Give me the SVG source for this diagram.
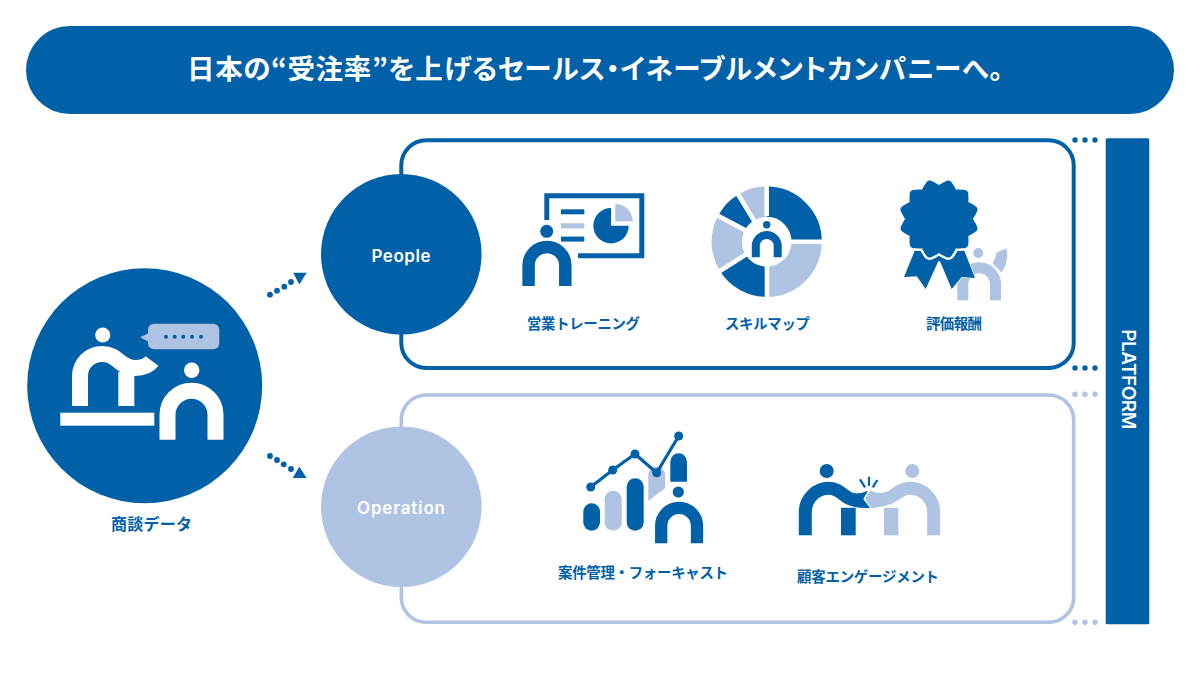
<svg xmlns="http://www.w3.org/2000/svg" xmlns:xlink="http://www.w3.org/1999/xlink" width="1200" height="675" viewBox="0 0 1200 675">
<style>
.d{fill:#0060a8}.l{fill:#afc3e3}.w{fill:#fff}
.sd{fill:none;stroke:#0060a8}.sl{fill:none;stroke:#afc3e3}.sw{fill:none;stroke:#fff}
.jp{font-family:"Noto Sans CJK JP","Noto Sans",sans-serif;font-weight:700}
.lab{font-size:14.4px;fill:#0060a8;text-anchor:start}
.en{font-family:Inter,"Noto Sans",sans-serif;font-weight:600;fill:#fff}
</style>
<defs>
<path id="petal" d="M-8.8 -32.8Q-4.5 -37.5 -1.8 -39.3Q0 -40.2 1.8 -39.3Q4.5 -37.5 8.8 -32.8L0 -20Z"/>
<g id="rosette">
<circle r="33.4"/>
<use xlink:href="#petal" transform="rotate(15)"/><use xlink:href="#petal" transform="rotate(45)"/><use xlink:href="#petal" transform="rotate(75)"/><use xlink:href="#petal" transform="rotate(105)"/><use xlink:href="#petal" transform="rotate(135)"/><use xlink:href="#petal" transform="rotate(165)"/><use xlink:href="#petal" transform="rotate(195)"/><use xlink:href="#petal" transform="rotate(225)"/><use xlink:href="#petal" transform="rotate(255)"/><use xlink:href="#petal" transform="rotate(285)"/><use xlink:href="#petal" transform="rotate(315)"/><use xlink:href="#petal" transform="rotate(345)"/>
</g>
</defs>
<rect width="1200" height="675" fill="#fff"/>

<g id="header">
<rect x="26" y="26" width="1148" height="88" rx="44" class="d"/>
<text x="187" y="79" class="jp" font-size="27.5" fill="#fff" style="font-feature-settings:'palt'" textLength="816" lengthAdjust="spacing">日本の“受注率”を上げるセールス・イネーブルメントカンパニーへ。</text>
</g>

<g id="connectors">
<g class="d">
<circle cx="270" cy="294.7" r="2.9"/><circle cx="277" cy="290.7" r="2.9"/><circle cx="284.3" cy="286.7" r="2.9"/><circle cx="291" cy="282" r="2.9"/>
<path d="M293.3 272.7H306.7L299.3 284.5Z"/>
<circle cx="270" cy="456" r="2.9"/><circle cx="277" cy="460" r="2.9"/><circle cx="283.7" cy="464.3" r="2.9"/><circle cx="291" cy="469" r="2.9"/>
<path d="M299.3 466.7L306.7 478H292.7Z"/>
<circle cx="1075" cy="140" r="2.7"/><circle cx="1085" cy="140" r="2.7"/><circle cx="1095" cy="140" r="2.7"/>
<circle cx="1075" cy="368" r="2.7"/><circle cx="1085" cy="368" r="2.7"/><circle cx="1095" cy="368" r="2.7"/>
</g>
<g class="l">
<circle cx="1075" cy="394.3" r="2.7"/><circle cx="1085" cy="394.3" r="2.7"/><circle cx="1095" cy="394.3" r="2.7"/>
<circle cx="1075" cy="622.3" r="2.7"/><circle cx="1085" cy="622.3" r="2.7"/><circle cx="1095" cy="622.3" r="2.7"/>
</g>
</g>

<g id="box-people"><rect x="401.3" y="140.3" width="672.4" height="227.7" rx="25" class="sd" stroke-width="4"/></g>
<g id="box-operation"><rect x="401.3" y="395" width="672.4" height="227.3" rx="25" class="sl" stroke-width="3.6"/></g>

<g id="platform">
<rect x="1105.7" y="138.3" width="43.6" height="486" rx="1.5" class="d"/>
<text transform="translate(1121.6 329.3) rotate(90)" class="en" font-size="19" textLength="100" lengthAdjust="spacing">PLATFORM</text>
</g>

<g id="people">
<circle cx="401.3" cy="254.2" r="80.3" class="d"/>
<text x="371.5" y="261.7" class="en" font-size="17" textLength="59" lengthAdjust="spacing">People</text>
</g>
<g id="operation">
<circle cx="401.3" cy="506.7" r="80.3" class="l"/>
<text x="357" y="514" class="en" font-size="17" textLength="88" lengthAdjust="spacing">Operation</text>
</g>

<g id="sales-talk">
<circle cx="144.7" cy="385.7" r="117.5" class="d"/>
<circle cx="102.7" cy="335" r="7.6" class="w"/>
<path d="M80 406V376A22 22 0 0 1 102 354C118 354 120 368 135 368C143 368 149 365 152 361" class="sw" stroke-width="16"/>
<rect x="118.3" y="372" width="16" height="34" class="w"/>
<rect x="60.3" y="412.7" width="94" height="13" class="w"/>
<circle cx="191.7" cy="370.3" r="7.7" class="w"/>
<path d="M167.5 439.7V414.7A24 24 0 0 1 215.5 414.7V439.7" class="sw" stroke-width="16"/>
<rect x="148" y="323.7" width="71.3" height="25.6" rx="6" class="l"/>
<path d="M140 337.3L149 333V342Z" class="l"/>
<g class="d"><circle cx="166" cy="336.7" r="2"/><circle cx="174.7" cy="336.7" r="2"/><circle cx="183.3" cy="336.7" r="2"/><circle cx="192" cy="336.7" r="2"/><circle cx="201" cy="336.7" r="2"/></g>
<text x="111" y="529.5" class="jp" font-size="16" fill="#0060a8" textLength="81" lengthAdjust="spacing">商談データ</text>
</g>

<g id="sales-training">
<path d="M546.8 220V195.8H641.8V255.8H578" class="sd" stroke-width="5"/>
<rect x="561" y="209.3" width="23.3" height="5" class="d"/>
<rect x="561" y="223.3" width="23.3" height="5" class="l"/>
<rect x="561" y="236.6" width="23.3" height="5" class="d"/>
<path d="M611 225.7H628.7A17.7 17.7 0 1 1 611 208Z" class="d"/>
<path d="M615.3 221.3V204A17.4 17.4 0 0 1 632.7 221.3Z" class="l"/>
<circle cx="546.7" cy="231.3" r="6.5" class="d"/>
<path d="M528.6 286V265.3A18.35 18.35 0 0 1 565.3 265.3V286" class="sd" stroke-width="12.5"/>
<text x="527" y="329" class="jp lab" textLength="113" lengthAdjust="spacing">営業トレーニング</text>
</g>

<g id="skill-map">
<g stroke-width="30.3" fill="none">
<path d="M766.7 201.7A40 40 0 0 1 806.7 241.7" class="sd"/>
<path d="M806.7 241.7A40 40 0 0 1 766.7 281.7" class="sl"/>
<path d="M766.7 281.7A40 40 0 0 1 732.8 262.9" class="sd"/>
<path d="M732.8 262.9A40 40 0 0 1 731.4 222.9" class="sl"/>
<path d="M731.4 222.9A40 40 0 0 1 746.1 207.4" class="sd"/>
<path d="M746.1 207.4A40 40 0 0 1 766.7 201.7" class="sl"/>
</g>
<path d="M766.7 216V180M767 241.7H830M767 265V305M746.3 254.4L712 276M745.5 230.4L710 211.5M754.3 221.1L733 186" class="sw" stroke-width="4.6"/>
<circle cx="766.7" cy="224.7" r="3.7" class="d"/>
<path d="M755.8 257.3V245A11 11 0 0 1 777.7 245V257.3" class="sd" stroke-width="8"/>
<text x="725" y="329" class="jp lab" textLength="85" lengthAdjust="spacing">スキルマップ</text>
</g>

<g id="reward">
<circle cx="978.3" cy="253" r="5" class="l"/>
<path d="M962.8 300.3V284.2A16.35 16.35 0 0 1 995.5 284.2V300.3" class="sl" stroke-width="11"/>
<path d="M996 253Q1001 250 1006.5 248.5Q1009 262 1001.5 272.5L992.5 263Q996 258 996 253Z" class="l"/>
<path d="M915 250L904 277L916.7 276.3L925.7 289L938.3 261.3L940 261.3L951.7 289L961.7 277L975 278L964 250Z" class="d" stroke="#fff" stroke-width="1.5" paint-order="stroke"/>
<use xlink:href="#rosette" transform="translate(939 219)" fill="#fff" stroke="#fff" stroke-width="5" stroke-linejoin="round"/>
<use xlink:href="#rosette" transform="translate(939 219)" class="d"/>
<text x="926" y="329" class="jp lab" textLength="56" lengthAdjust="spacing">評価報酬</text>
</g>

<g id="forecast">
<rect x="583.3" y="503.3" width="16.7" height="27.4" rx="8.35" class="d"/>
<rect x="604.7" y="490.7" width="17" height="40" rx="8.5" class="l"/>
<rect x="626.7" y="478.3" width="17" height="52.4" rx="8.5" class="d"/>
<path d="M648.3 501V475A8.35 8.35 0 0 1 665 475V488.3Z" class="l"/>
<path d="M670.3 481.7V461.7A8.35 8.35 0 0 1 687 461.7V481.7Z" class="d"/>
<path d="M590.7 487L612.7 470L635 454L656.7 472.7L678.7 436" class="sd" stroke-width="3.2"/>
<g class="d"><circle cx="590.7" cy="487" r="4.5"/><circle cx="612.7" cy="470" r="4.5"/><circle cx="635" cy="454" r="4.5"/><circle cx="656.7" cy="472.7" r="4.5"/><circle cx="678.7" cy="436" r="4.5"/></g>
<circle cx="678.3" cy="492" r="5.6" class="d"/>
<path d="M661.2 543.3V525.8A17.9 17.9 0 0 1 697 525.8V543.3" class="sd" stroke-width="12.3"/>
<text x="558" y="578" class="jp lab" textLength="170" lengthAdjust="spacing">案件管理・フォーキャスト</text>
</g>

<g id="engagement">
<circle cx="826.7" cy="471" r="7" class="d"/>
<circle cx="912.3" cy="471" r="7" class="l"/>
<path d="M805.3 535.3V512A23.7 23.7 0 0 1 829 488.3C842 488.3 844 500 856 500" class="sd" stroke-width="13"/>
<path d="M853 493.5Q861 494 868 490.7L863.3 499L870 508Q860 508.5 853 506.5Z" class="d"/>
<rect x="841" y="507.8" width="14.7" height="27.5" class="d"/>
<path d="M933.7 535.3V512A23.7 23.7 0 0 0 910 488.3C897 488.3 895 499 883 499" class="sl" stroke-width="13"/>
<path d="M887 492.6Q879 494 870.2 490.7L865 499L871.5 508.3Q880 507 887 505.4Z" class="l"/>
<rect x="884" y="507.8" width="14.3" height="27.5" class="l"/>
<path d="M860 479.3L865 487.3M869 476.7V485.7M877.3 480L872.7 487.3" class="sd" stroke-width="2.2"/>
<text x="797" y="582" class="jp lab" textLength="142" lengthAdjust="spacing">顧客エンゲージメント</text>
</g>
</svg>
